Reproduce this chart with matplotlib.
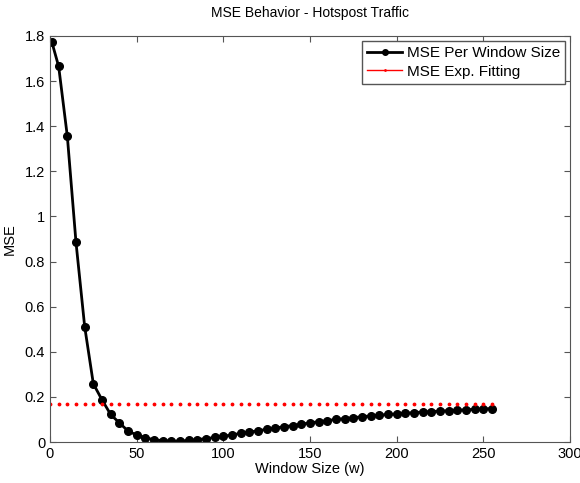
import matplotlib.pyplot as plt
from matplotlib.lines import Line2D
from matplotlib.ticker import FuncFormatter
import numpy as np

plt.rcParams['font.family'] = ['Liberation Sans', 'DejaVu Sans']

# Window sizes and MSE
window = [1, 5, 10, 15, 20, 25, 30, 35, 40, 45, 50, 55, 60, 65, 70, 75, 80, 85,
          90, 95, 100, 105, 110, 115, 120, 125, 130, 135, 140, 145, 150, 155,
          160, 165, 170, 175, 180, 185, 190, 195, 200, 205, 210, 215, 220, 225,
          230, 235, 240, 245, 250, 255]
mse = [1.775, 1.665, 1.355, 0.885, 0.512, 0.258, 0.187, 0.122, 0.085, 0.049,
       0.031, 0.019, 0.010, 0.006, 0.004, 0.004, 0.007, 0.011, 0.015, 0.020,
       0.025, 0.032, 0.038, 0.044, 0.050, 0.056, 0.062, 0.068, 0.073, 0.079,
       0.085, 0.090, 0.095, 0.100, 0.104, 0.108, 0.112, 0.116, 0.119, 0.122,
       0.125, 0.128, 0.130, 0.133, 0.135, 0.137, 0.139, 0.141, 0.143, 0.145,
       0.147, 0.148]
fit_x = list(range(0, 256, 5))
fit_val = 0.167

fig = plt.figure(figsize=(5.8, 4.83), dpi=100)
ax = fig.add_axes([50/580, 41/483, 520/580, 406/483])

ax.plot(window, mse, color='black', linewidth=2, marker='o', markersize=5.5)
ax.plot(fit_x, [fit_val]*len(fit_x), color='red', linestyle='none', marker='.', markersize=3.5)

ax.set_xlim(0, 300)
ax.set_ylim(0, 1.8)
ax.set_xticks(np.arange(0, 301, 50))
ax.set_yticks(np.arange(0, 1.81, 0.2))
ax.yaxis.set_major_formatter(FuncFormatter(lambda v, p: f"{v:g}"))
ax.tick_params(direction='in', top=True, right=True, labelsize=10.5, length=4, color='#555555')
for s in ax.spines.values():
    s.set_color('#555555')

ax.set_title("MSE Behavior - Hotspost Traffic", fontsize=10, pad=14)
ax.set_xlabel("Window Size (w)", fontsize=10.5, labelpad=1)
ax.set_ylabel("MSE", fontsize=10.5, labelpad=6)

handles = [Line2D([], [], color='black', linewidth=2, marker='o', markersize=4),
           Line2D([], [], color='red', linewidth=1, marker='.', markersize=2)]
leg = ax.legend(handles, ["MSE Per Window Size", "MSE Exp. Fitting"], loc='upper right',
                fontsize=11, fancybox=False, framealpha=1, edgecolor='#555555',
                handlelength=2.3, borderpad=0.35, labelspacing=0.3, handletextpad=0.3,
                borderaxespad=0.3)

fig.savefig("out.png", dpi=100)
